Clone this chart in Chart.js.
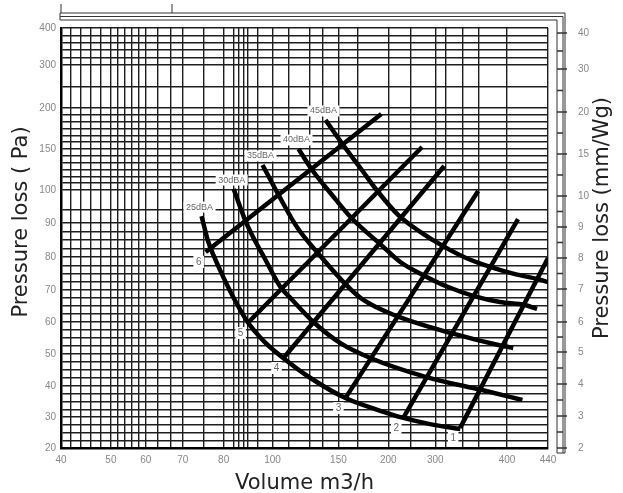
<!DOCTYPE html>
<html>
<head>
<meta charset="utf-8">
<script src="https://cdn.jsdelivr.net/npm/chart.js@4.4.1/dist/chart.umd.min.js"></script>
<style>
  body { margin: 0; background: #fff; }
</style>
</head>
<body>
<canvas id="myChart" width="623" height="493"></canvas>
<script>
// sound level curves: volume (m3/h) against pressure loss (Pa)
const dbaLabels = ['25dBA', '30dBA', '35dBA', '40dBA', '45dBA'];
const dba25Vol = [74.6, 76.1, 77.6, 79.8, 84.1, 89.8, 96.7, 108.3, 128.8, 157, 189, 232, 289, 335];
const dba25Pa  = [92.1, 85, 80.3, 74.2, 67.5, 60, 53.8, 48.7, 42.5, 36.1, 32.3, 29.7, 27.7, 26.1];
const dba30Vol = [84.1, 88.6, 91.8, 96.7, 106, 115, 131, 152, 182, 281, 365, 415];
const dba30Pa  = [101.2, 91.2, 86.2, 79.7, 70.9, 66.9, 60, 53.4, 48.75, 42.8, 38.7, 35.5];
const dba35Vol = [95.9, 104.5, 119, 135, 158, 175, 217, 321, 394, 406];
const dba35Pa  = [130.5, 98.5, 88.5, 80.9, 71.5, 66.9, 61.9, 56.6, 52.5, 51.9];
const dba40Vol = [119.7, 129.5, 143.9, 163, 193, 225.5, 274.5, 318, 354, 390, 417.6, 429.3];
const dba40Pa  = [150, 125.6, 99.1, 91.5, 83.5, 78.5, 74.5, 70.9, 68.1, 66.25, 65.3, 64.1];
const dba45Vol = [140.2, 154, 172, 189, 221.3, 268, 311, 343, 376.4, 407.8, 430.2, 440];
const dba45Pa  = [185.4, 156.1, 126.8, 99.7, 92.4, 87.4, 83.2, 79.7, 77, 74.8, 73.3, 72.4];

// damper positions: straight lines
const damperLabels   = ['1', '2', '3', '4', '5', '6'];
const damperVolStart = [334.7, 231.9, 157, 108.3, 89.8, 75.6];
const damperPaStart  = [26.5, 29.7, 36.1, 48.75, 59.7, 81.5];
const damperVolEnd   = [440, 410.7, 359.7, 312.5, 272, 193];
const damperPaEnd    = [79.7, 91.2, 99.7, 129.3, 152.4, 192.7];

// axis ticks (grid lines) and the ones that carry a label
const volTicks  = [40, 42, 44, 46, 48, 50, 52, 54, 56, 58, 60, 63.3, 66.7, 70, 75, 80, 84, 86, 88, 90, 94, 100,
                   112, 128, 138, 150, 169, 200, 248, 300, 315, 338, 360, 400, 440];
const volLabels = [40, 50, 60, 70, 80, 100, 150, 200, 300, 400, 440];
const paTicks   = [20, 22.5, 25, 27.5, 30, 32.5, 35, 37.5, 40, 42.5, 45, 47.5, 50, 52.5, 55, 57.5, 60, 62.5, 65, 67.5,
                   70, 72.5, 75, 77.5, 80, 82.5, 85, 87.5, 90, 94, 100, 108.3, 116.7, 125, 133.3, 141.7, 150,
                   158.3, 166.7, 175, 183.3, 191.7, 200, 250, 300, 320, 340, 360, 380, 400];
const paLabels  = [20, 30, 40, 50, 60, 70, 80, 90, 100, 150, 200, 300, 400];
const mmTicks   = [2, 2.5, 3, 3.5, 4, 4.5, 5, 5.5, 6, 6.5, 7, 7.5, 8, 8.5, 9, 9.5, 10, 12.5, 15, 17.5, 20, 25, 30, 35, 40];
const mmLabels  = [2, 3, 4, 5, 6, 7, 8, 9, 10, 15, 20, 30, 40];

// the printed axes are not a true log scale, so calibrate them on where the labels sit
const calib = {
  x:  { v: volLabels, p: [60, 110, 145, 182, 223, 272, 338, 388, 435, 507, 548] },
  y:  { v: paLabels, p: [448, 417, 386, 354, 322, 290, 257, 223, 190, 149, 108, 65, 28] },
  y2: { v: [2, 3, 4, 5, 6, 7, 8, 9, 10, 15, 20, 30, 40, 41.4],
        p: [448, 416, 384, 352, 322, 289, 258, 227, 196, 154, 112, 69, 33, 28] }
};

class PiecewiseScale extends Chart.LinearScale {
  toDecimal(value) {
    const c = calib[this.id], v = c.v, p = c.p, n = v.length;
    let i = 0;
    while (i < n - 2 && value > v[i + 1]) i++;
    const px = p[i] + (value - v[i]) / (v[i + 1] - v[i]) * (p[i + 1] - p[i]);
    return (px - p[0]) / (p[n - 1] - p[0]);
  }
  fromDecimal(dec) {
    const c = calib[this.id], v = c.v, p = c.p, n = v.length;
    const px = p[0] + dec * (p[n - 1] - p[0]);
    let i = 0;
    while (i < n - 2 && (px - p[i + 1]) * (p[n - 1] - p[0]) > 0) i++;
    return v[i] + (px - p[i]) / (p[i + 1] - p[i]) * (v[i + 1] - v[i]);
  }
  getPixelForValue(value) {
    if (value === null || value === undefined || isNaN(value)) return NaN;
    return this.getPixelForDecimal(this.toDecimal(value));
  }
  getValueForPixel(pixel) {
    return this.fromDecimal(this.getDecimalForPixel(pixel));
  }
}
PiecewiseScale.id = 'piecewise';
PiecewiseScale.defaults = { ticks: { callback: Chart.Ticks.formatters.numeric } };
Chart.register(PiecewiseScale);

const gridColor = '#1e1e1e';
const tickFont = { family: '"Liberation Sans", Arial, sans-serif', size: 10 };
const titleFont = '21px "DejaVu Sans", sans-serif';

const dbaVol = [dba25Vol, dba30Vol, dba35Vol, dba40Vol, dba45Vol];
const dbaPa = [dba25Pa, dba30Pa, dba35Pa, dba40Pa, dba45Pa];

const datasets = [];
dbaVol.forEach((xs, i) => {
  datasets.push({
    label: dbaLabels[i],
    data: xs.map((x, j) => ({ x: x, y: dbaPa[i][j] })),
    borderColor: '#000',
    borderWidth: 4.5,
    pointRadius: 0,
    cubicInterpolationMode: 'monotone',
    fill: false
  });
});
damperLabels.forEach((lab, i) => {
  datasets.push({
    label: lab,
    data: [{ x: damperVolStart[i], y: damperPaStart[i] }, { x: damperVolEnd[i], y: damperPaEnd[i] }],
    borderColor: '#000',
    borderWidth: 4.5,
    pointRadius: 0,
    fill: false
  });
});

function tag(ctx, text, x, y, size) {
  ctx.font = size + 'px "Liberation Sans", Arial, sans-serif';
  const w = ctx.measureText(text).width + 5;
  ctx.fillStyle = '#fff';
  ctx.fillRect(x - w / 2, y - size / 2 - 1, w, size + 2);
  ctx.fillStyle = '#666';
  ctx.textAlign = 'center';
  ctx.textBaseline = 'middle';
  ctx.fillText(text, x, y);
}

const decor = {
  id: 'decor',
  afterDraw(chart) {
    const { ctx, chartArea: ca, scales } = chart;
    const x = scales.x, y = scales.y, y2 = scales.y2;
    ctx.save();

    // curve and line labels
    dbaLabels.forEach((lab, i) => {
      tag(ctx, lab, x.getPixelForValue(dbaVol[i][0]) - 2, y.getPixelForValue(dbaPa[i][0]) - 9, 9);
    });
    damperLabels.forEach((lab, i) => {
      tag(ctx, lab, x.getPixelForValue(damperVolStart[i]) - 7, y.getPixelForValue(damperPaStart[i]) + 10, 10);
    });

    // frame above the plot and the ruler on the right
    ctx.strokeStyle = '#333';
    ctx.lineWidth = 1;
    const bottom = ca.bottom + 5;
    [[13, 17], [16.5, 15], [20, 9]].forEach(([yy, dx]) => {
      ctx.beginPath();
      ctx.moveTo(ca.left - 1, yy);
      ctx.lineTo(ca.right + dx, yy);
      ctx.lineTo(ca.right + dx, bottom);
      ctx.stroke();
    });
    ctx.beginPath();
    ctx.moveTo(ca.left - 1, 13); ctx.lineTo(ca.left - 1, 20);
    ctx.moveTo(ca.right + 9, bottom); ctx.lineTo(ca.right + 17, bottom);
    ctx.moveTo(ca.left, 4); ctx.lineTo(ca.left, 13);
    ctx.moveTo(172, 4); ctx.lineTo(172, 13);
    ctx.stroke();
    ctx.lineWidth = 1.3;
    ctx.beginPath();
    y2.ticks.forEach(t => {
      const py = y2.getPixelForValue(t.value);
      ctx.moveTo(ca.right + 9, py);
      ctx.lineTo(ca.right + (mmLabels.includes(t.value) ? 19 : 15), py);
    });
    ctx.stroke();

    // vertical axis titles, reading upwards
    ctx.fillStyle = '#222';
    ctx.font = titleFont;
    ctx.textAlign = 'center';
    ctx.textBaseline = 'middle';
    [['Pressure loss ( Pa)', 22, 222], ['Pressure loss (mm/Wg)', 603, 218]].forEach(([txt, tx, ty]) => {
      ctx.save();
      ctx.translate(tx, ty);
      ctx.rotate(-Math.PI / 2);
      ctx.fillText(txt, 0, 0);
      ctx.restore();
    });
    ctx.restore();
  }
};

const ctx = document.getElementById('myChart').getContext('2d');
const myChart = new Chart(ctx, {
  type: 'line',
  data: { datasets: datasets },
  options: {
    responsive: false,
    animation: false,
    layout: { padding: { top: 28, left: 0, right: 0, bottom: 0 } },
    plugins: {
      legend: { display: false },
      tooltip: { enabled: false }
    },
    scales: {
      x: {
        type: 'piecewise',
        min: 40,
        max: 440,
        afterBuildTicks: (s) => { s.ticks = volTicks.map(v => ({ value: v })); },
        afterFit: (s) => { s.height = 45; },
        grid: { color: gridColor, lineWidth: 1.4, drawTicks: false },
        border: { color: '#000', width: 2.5 },
        ticks: {
          autoSkip: false, maxRotation: 0, padding: 6, font: tickFont, color: '#888',
          callback: (v) => volLabels.includes(v) ? String(v) : ''
        },
        title: { display: true, text: 'Volume m3/h', color: '#222', padding: { top: 0, bottom: -3 },
                 font: { family: '"DejaVu Sans", sans-serif', size: 21 } }
      },
      y: {
        type: 'piecewise',
        position: 'left',
        min: 20,
        max: 400,
        afterBuildTicks: (s) => { s.ticks = paTicks.map(v => ({ value: v })); },
        afterFit: (s) => { s.width = 61; },
        grid: { color: gridColor, lineWidth: 1.4, drawTicks: false },
        border: { color: '#000', width: 2.5 },
        ticks: {
          autoSkip: false, padding: 5, font: tickFont, color: '#888',
          callback: (v) => paLabels.includes(v) ? String(v) : ''
        }
      },
      y2: {
        type: 'piecewise',
        position: 'right',
        min: 2,
        max: 41.4,
        afterBuildTicks: (s) => { s.ticks = mmTicks.map(v => ({ value: v })); },
        afterFit: (s) => { s.width = 75; },
        grid: { display: false },
        border: { display: false },
        ticks: {
          autoSkip: false, padding: 22, font: tickFont, color: '#888',
          callback: (v) => mmLabels.includes(v) ? String(v) : ''
        }
      }
    }
  },
  plugins: [decor]
});
</script>
</body>
</html>
